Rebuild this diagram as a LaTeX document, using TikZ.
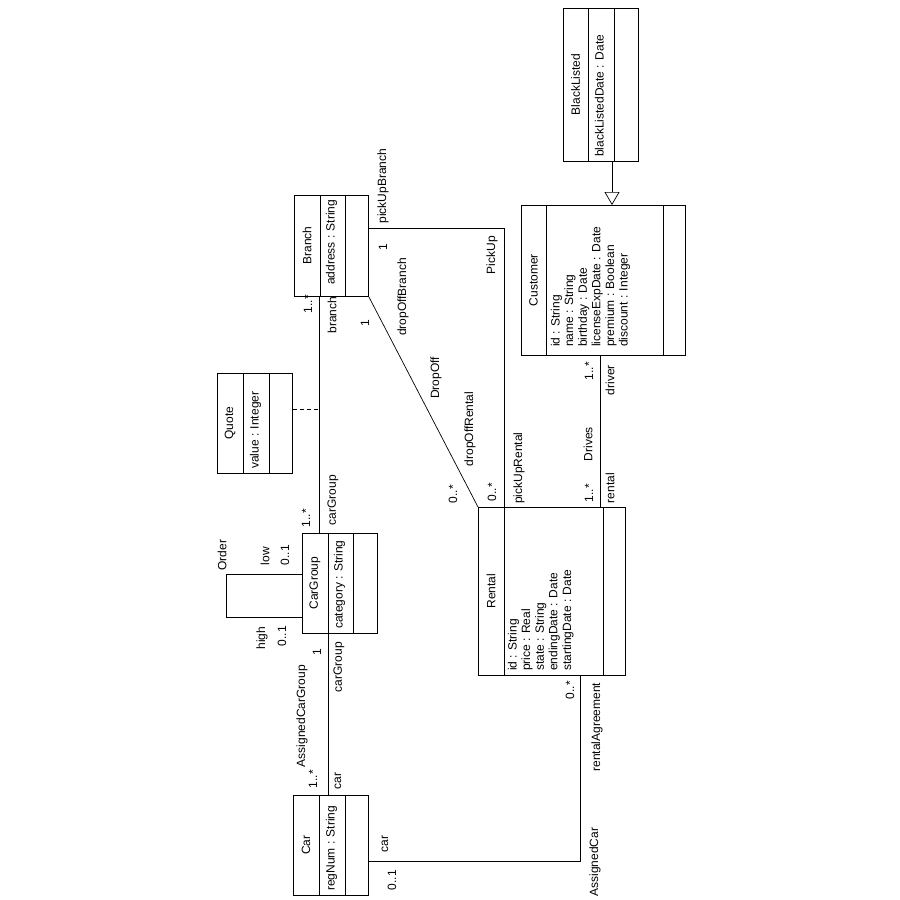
\documentclass[tikz,border=0pt]{standalone}
\usepackage{fontspec}
\setmainfont{Liberation Sans}
\usetikzlibrary{arrows.meta}
\begin{document}
\begin{tikzpicture}[x=1pt,y=-1pt,
  every node/.style={font=\fontsize{12}{13.6}\selectfont},
  cls/.style args={#1x#2}{draw, line width=0.9pt, anchor=north west,
    inner sep=0pt, minimum width=#1pt, minimum height=#2pt},
  sep/.style={line width=0.9pt},
  title/.style={rotate=90, inner sep=0pt},
  attr/.style={rotate=90, anchor=mid west, inner sep=0pt},
  lbl/.style={rotate=90, inner sep=0pt},
  assoc/.style={line width=0.7pt},
  assocdash/.style={line width=0.7pt, dash pattern=on 4pt off 3pt},
  gen/.style={line width=0.7pt, -{Triangle[open, length=13pt, width=15pt]}}]

\fill[white] (0,0) rectangle (900,900);
\useasboundingbox (0,0) rectangle (900,900);

% ---------- classes ----------
% Branch
\node[cls=74x101] (branch) at (294,195) {};
\draw[sep] ([xshift=26pt]branch.north west) -- ([xshift=26pt]branch.south west);
\draw[sep] ([xshift=51pt]branch.north west) -- ([xshift=51pt]branch.south west);
\node[title] (branch-name) at (307,245.5) {Branch};
\node[attr] (branch-a1) at (332,285) {address : String};

% Quote
\node[cls=75x100] (quote) at (217,373) {};
\draw[sep] ([xshift=26pt]quote.north west) -- ([xshift=26pt]quote.south west);
\draw[sep] ([xshift=52pt]quote.north west) -- ([xshift=52pt]quote.south west);
\node[title] (quote-name) at (230,423) {Quote};
\node[attr] (quote-a1) at (256,469) {value : Integer};

% CarGroup
\node[cls=75x100] (cargroup) at (302,533) {};
\draw[sep] ([xshift=26pt]cargroup.north west) -- ([xshift=26pt]cargroup.south west);
\draw[sep] ([xshift=51pt]cargroup.north west) -- ([xshift=51pt]cargroup.south west);
\node[title] (cargroup-name) at (315,583) {CarGroup};
\node[attr] (cargroup-a1) at (340,629) {category : String};

% Car
\node[cls=75x100] (car) at (293,795) {};
\draw[sep] ([xshift=26pt]car.north west) -- ([xshift=26pt]car.south west);
\draw[sep] ([xshift=52pt]car.north west) -- ([xshift=52pt]car.south west);
\node[title] (car-name) at (306,845) {Car};
\node[attr] (car-a1) at (332,891) {regNum : String};

% Rental
\node[cls=147x168] (rental) at (478,507) {};
\draw[sep] ([xshift=26pt]rental.north west) -- ([xshift=26pt]rental.south west);
\draw[sep] ([xshift=125pt]rental.north west) -- ([xshift=125pt]rental.south west);
\node[title] (rental-name) at (491,591) {Rental};
\node[attr] (rental-a1) at (514,671) {id : String};
\node[attr] (rental-a2) at (527.6,671) {price : Real};
\node[attr] (rental-a3) at (541.2,671) {state : String};
\node[attr] (rental-a4) at (554.8,671) {endingDate : Date};
\node[attr] (rental-a5) at (568.4,671) {startingDate : Date};

% Customer
\node[cls=164x150] (customer) at (521,205) {};
\draw[sep] ([xshift=25pt]customer.north west) -- ([xshift=25pt]customer.south west);
\draw[sep] ([xshift=142pt]customer.north west) -- ([xshift=142pt]customer.south west);
\node[title] (customer-name) at (533.5,280) {Customer};
\node[attr] (customer-a1) at (557,347) {id : String};
\node[attr] (customer-a2) at (570.6,347) {name : String};
\node[attr] (customer-a3) at (584.2,347) {birthday : Date};
\node[attr] (customer-a4) at (597.8,347) {licenseExpDate : Date};
\node[attr] (customer-a5) at (611.4,347) {premium : Boolean};
\node[attr] (customer-a6) at (625,347) {discount : Integer};

% BlackListed
\node[cls=75x153] (blacklisted) at (563,8) {};
\draw[sep] ([xshift=25pt]blacklisted.north west) -- ([xshift=25pt]blacklisted.south west);
\draw[sep] ([xshift=51pt]blacklisted.north west) -- ([xshift=51pt]blacklisted.south west);
\node[title] (blacklisted-name) at (575.5,84.5) {BlackListed};
\node[attr] (blacklisted-a1) at (601,157) {blackListedDate : Date};

% ---------- connectors ----------
% Branch -- CarGroup, with Quote as association class
\coordinate (bc-top) at ([xshift=25pt]branch.south west);
\draw[assoc] (bc-top) -- (bc-top |- cargroup.north);
\coordinate (quote-link) at ([yshift=14pt]quote.east);
\draw[assocdash] (quote-link) -- (quote-link -| bc-top);

% CarGroup -- Car
\coordinate (cc-top) at ([xshift=26pt]cargroup.south west);
\draw[assoc] (cc-top) -- (cc-top |- car.north);

% Order: CarGroup to itself
\draw[assoc] ([yshift=-41pt]cargroup.north west) -- ++(-76,0) -- ++(0,43) -- ++(76,0);

% Car -- Rental
\coordinate (ac-start) at ([yshift=-16pt]car.east);
\coordinate (ac-end) at ([xshift=102pt]rental.south west);
\draw[assoc] (ac-start) -| (ac-end);

% Customer -- Rental
\draw[assoc] ([xshift=79pt]customer.south west) -- ([xshift=122pt]rental.north west);

% Branch -- Rental (PickUp)
\draw[assoc] ([yshift=17.5pt]branch.east) -| ([xshift=26pt]rental.north west);

% Branch -- Rental (DropOff)
\draw[assoc] (branch.south east) -- (rental.north west);

% BlackListed specialises Customer
\coordinate (gen-start) at ([xshift=49pt]blacklisted.south west);
\draw[gen] (gen-start) -- (gen-start |- customer.north);

% ---------- association labels ----------
\node[lbl] (bc-m1) at (308,304) {1..*};
\node[lbl] (bc-r1) at (332,315) {branch};
\node[lbl] (bc-r2) at (333,500) {carGroup};
\node[lbl] (bc-m2) at (306,518) {1..*};

\node[lbl] (cc-m1) at (317,652) {1};
\node[lbl] (cc-r1) at (339,667) {carGroup};
\node[lbl] (cc-name) at (302,716) {AssignedCarGroup};
\node[lbl] (cc-m2) at (313,779) {1..*};
\node[lbl] (cc-r2) at (338,781) {car};

\node[lbl] (order-name) at (222,555) {Order};
\node[lbl] (order-r1) at (265,556) {low};
\node[lbl] (order-m1) at (285,555) {0..1};
\node[lbl] (order-r2) at (262,638) {high};
\node[lbl] (order-m2) at (282,636) {0..1};

\node[lbl] (ac-r1) at (385,844) {car};
\node[lbl] (ac-m1) at (392,880) {0..1};
\node[lbl] (ac-name) at (595,862) {AssignedCar};
\node[lbl] (ac-m2) at (570,690) {0..*};
\node[lbl] (ac-r2) at (597,727) {rentalAgreement};

\node[lbl] (dr-m1) at (589,371) {1..*};
\node[lbl] (dr-r1) at (610,380) {driver};
\node[lbl] (dr-name) at (588,444) {Drives};
\node[lbl] (dr-m2) at (589,493) {1..*};
\node[lbl] (dr-r2) at (610,488) {rental};

\node[lbl] (pu-r1) at (383,186) {pickUpBranch};
\node[lbl] (pu-m1) at (383,247) {1};
\node[lbl] (pu-name) at (492,255) {PickUp};
\node[lbl] (pu-r2) at (519,468) {pickUpRental};
\node[lbl] (pu-m2) at (492,492) {0..*};

\node[lbl] (do-m1) at (365,323) {1};
\node[lbl] (do-r1) at (403,297) {dropOffBranch};
\node[lbl] (do-name) at (436,378) {DropOff};
\node[lbl] (do-r2) at (470,429) {dropOffRental};
\node[lbl] (do-m2) at (453,494) {0..*};
\end{tikzpicture}
\end{document}
